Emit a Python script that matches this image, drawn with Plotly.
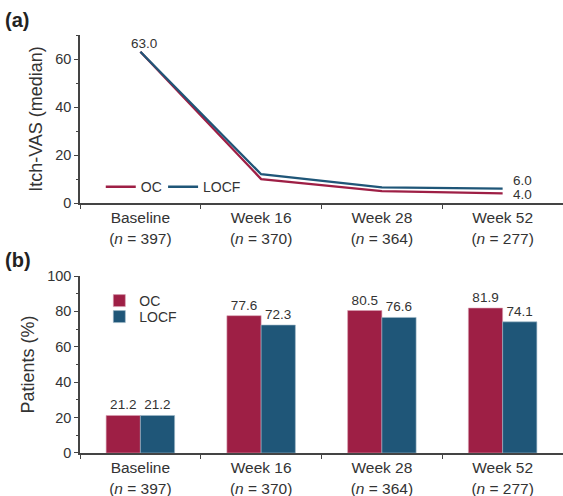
import plotly.graph_objects as go

# Visits and sample sizes
visits = ["Baseline", "Week 16", "Week 28", "Week 52"]
n_patients = [397, 370, 364, 277]

# (a) Median Itch-VAS
vas_oc = [63.0, 10.0, 5.0, 4.0]
vas_locf = [63.0, 12.0, 6.5, 6.0]

# (b) Patients (%)
pct_oc = [21.2, 77.6, 80.5, 81.9]
pct_locf = [21.2, 72.3, 76.6, 74.1]

OC_COLOR = "#9E1F45"
LOCF_COLOR = "#1F5678"
INK = "#333333"
FONT = "Liberation Sans, Arial, sans-serif"

cats = [f"{v}<br>(<i>n</i> = {n})" for v, n in zip(visits, n_patients)]

fig = go.Figure()

# Panel (a): lines
fig.add_trace(go.Scatter(
    x=cats, y=vas_oc, mode="lines", name="OC",
    line=dict(color=OC_COLOR, width=2.3),
    xaxis="x", yaxis="y", legend="legend", showlegend=True,
))
fig.add_trace(go.Scatter(
    x=cats, y=vas_locf, mode="lines", name="LOCF",
    line=dict(color=LOCF_COLOR, width=2.3),
    xaxis="x", yaxis="y", legend="legend2", showlegend=True,
))

# Panel (b): grouped bars
fig.add_trace(go.Bar(
    x=cats, y=pct_oc, name="OC", marker=dict(color=OC_COLOR, line=dict(width=0.6, color="#d9a0b2")),
    text=[f"{v:.1f}" for v in pct_oc], textposition="outside",
    textfont=dict(size=13.5, color=INK),
    xaxis="x2", yaxis="y2", legend="legend3", showlegend=True, cliponaxis=False,
))
fig.add_trace(go.Bar(
    x=cats, y=pct_locf, name="LOCF", marker=dict(color=LOCF_COLOR, line=dict(width=0.6, color="#9fb8c8")),
    text=[f"{v:.1f}" for v in pct_locf], textposition="outside",
    textfont=dict(size=13.5, color=INK),
    xaxis="x2", yaxis="y2", legend="legend4", showlegend=True, cliponaxis=False,
))

xcommon = dict(
    type="category", range=[-0.5, 3.5], showline=True, linecolor="#444", linewidth=1.5,
    ticks="outside", tickson="boundaries", ticklen=4, tickcolor="#444",
    tickfont=dict(size=15.5, color=INK), showgrid=False, zeroline=False, automargin=False,
)
ycommon = dict(
    showline=True, linecolor="#444", linewidth=1.5, ticks="outside", ticklen=4,
    tickcolor="#444", tickfont=dict(size=14.5, color=INK), showgrid=False, zeroline=False,
    automargin=False, title_font=dict(size=18, color=INK), title_standoff=8,
)


def legend_box(x, y):
    return dict(x=x, y=y, xanchor="left", yanchor="middle", orientation="v",
                font=dict(size=14, color=INK), bgcolor="rgba(0,0,0,0)",
                itemwidth=30, tracegroupgap=0, visible=True)


def value_label(series, i, xshift, yshift, xanchor):
    # Value label anchored on a data point of panel (a)
    return dict(text=f"{series[i]:.1f}", x=cats[i], y=series[i], xref="x", yref="y",
                xshift=xshift, yshift=yshift, xanchor=xanchor, yanchor="middle",
                showarrow=False, font=dict(size=13.5, color=INK))


fig.update_layout(
    width=563, height=496, template="none", showlegend=True,
    paper_bgcolor="white", plot_bgcolor="white",
    font=dict(family=FONT, color=INK),
    margin=dict(l=80, r=0, t=35, b=43),
    barmode="group", bargap=0.433, bargroupgap=0,
    xaxis=dict(**xcommon, domain=[0, 1], anchor="y"),
    yaxis=dict(**ycommon, domain=[0.598, 1.0], anchor="x", range=[0, 70], dtick=20,
               minor=dict(dtick=10, ticks="outside", ticklen=2, tickcolor="#444"),
               title_text="Itch-VAS (median)"),
    xaxis2=dict(**xcommon, domain=[0, 1], anchor="y2"),
    yaxis2=dict(**ycommon, domain=[0, 0.4234], anchor="x2", range=[0, 100], dtick=20,
                minor=dict(dtick=10, ticks="outside", ticklen=2, tickcolor="#444"),
                title_text="Patients (%)"),
    legend=legend_box(0.043, 0.636),
    legend2=legend_box(0.172, 0.636),
    legend3=legend_box(0.04, 0.3636),
    legend4=legend_box(0.04, 0.3254),
    annotations=[
        value_label(vas_locf, 0, 4, 8, "center"),
        value_label(vas_locf, 3, 8, 8, "left"),
        value_label(vas_oc, 3, 8, -1, "left"),
        dict(text="<b>(a)</b>", x=-0.16, y=1.035, xref="paper", yref="paper",
             xanchor="left", yanchor="middle", showarrow=False, font=dict(size=20, color="#222")),
        dict(text="<b>(b)</b>", x=-0.16, y=0.461, xref="paper", yref="paper",
             xanchor="left", yanchor="middle", showarrow=False, font=dict(size=20, color="#222")),
    ],
)

fig.write_html("out.html")
